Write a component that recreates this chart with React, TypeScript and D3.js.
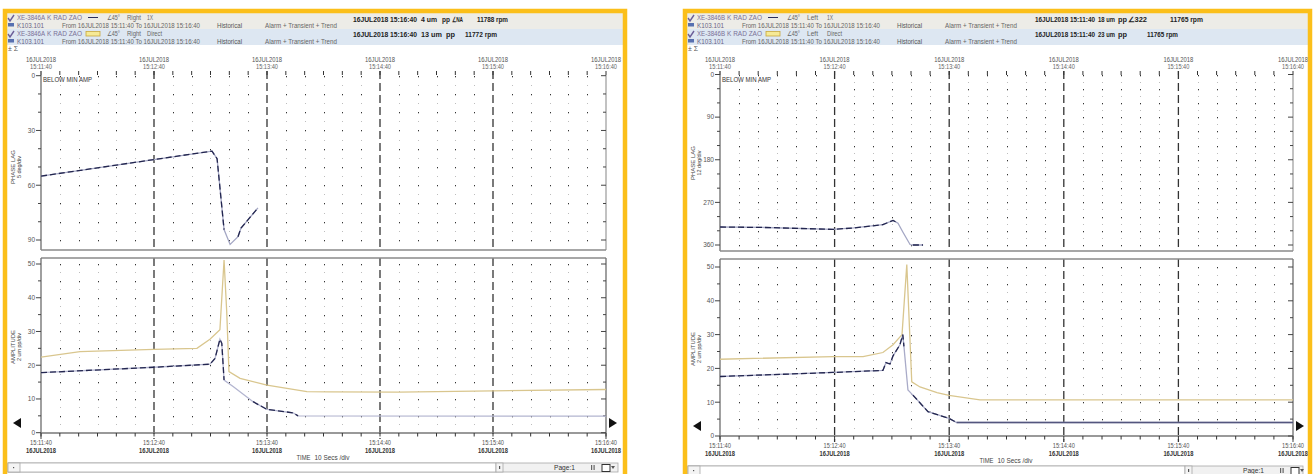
import React from 'react';
import * as d3 from 'd3';

type Pt = [number, number];

// ---------- shared axis data ----------
const DATE_TEXT = '16JUL2018';
const MAJOR_SECS = [0, 60, 120, 180, 240, 300];
const MAJOR_LABELS = ['15:11:40', '15:12:40', '15:13:40', '15:14:40', '15:15:40', '15:16:40'];
const LEFT_PHASE_TICKS = [0, 30, 60, 90];
const RIGHT_PHASE_TICKS = [0, 90, 180, 270, 360];
const AMP_TICKS = [0, 10, 20, 30, 40, 50];

// ---------- series (seconds after 15:11:40, value) ----------
const leftPhase: Pt[] = [[0, 55], [90.8, 41.3], [93.5, 45.5], [97.2, 84.3], [100.4, 92.4], [104.6, 88.2], [106.2, 83.5], [115.2, 72.4]];
const leftAmp1X: Pt[] = [[0, 17.8], [60, 19.4], [89.7, 20.3], [92.4, 22], [95, 27.7], [96, 26.5], [97.2, 15.6], [102, 13.7], [112.6, 9.2], [120, 6.9], [133.8, 5.9], [136.5, 5.0], [300, 4.9]];
const leftAmpDirect: Pt[] = [[0, 22.4], [20.7, 24], [60, 24.7], [82.8, 25], [89.7, 27.7], [95, 30.5], [97.2, 51.2], [98.6, 36], [99.8, 18.1], [105.7, 16.1], [120, 14.1], [141.2, 12.2], [153.5, 12.1], [190, 12], [240, 12.4], [300, 12.8]];

const rightPhase: Pt[] = [[0, 322], [23.6, 323], [59.2, 327], [70, 324], [85.3, 317], [90.6, 308], [93.2, 314], [95.8, 333], [99.5, 359], [101, 360], [106.3, 360]];
const rightAmp1X: Pt[] = [[0, 17.6], [59.2, 18.8], [85.3, 19.4], [86.9, 21.7], [89, 21.3], [90.6, 23.7], [94.2, 27], [95.7, 30], [96.3, 26.5], [98.4, 13.6], [101, 12.1], [108.9, 7.2], [119.9, 5.2], [123.9, 4], [300, 4]];
const rightAmpDirect: Pt[] = [[0, 22.7], [59.2, 23.5], [74.9, 23.5], [85.3, 24.7], [90.6, 27], [95.3, 30], [97.8, 50.7], [100.4, 16], [104.7, 14.5], [113.6, 12.8], [119.9, 12], [136.1, 10.7], [300, 10.7]];

// ---------- header texts ----------
const leftReading1 = ['16JUL2018 15:16:40', '4 um', 'pp', '\u2220NA', '11788 rpm'];
const leftReading2 = ['16JUL2018 15:16:40', '13 um', 'pp', '11772 rpm'];
const rightReading1 = ['16JUL2018 15:11:40', '18 um', 'pp', '\u2220322', '11765 rpm'];
const rightReading2 = ['16JUL2018 15:11:40', '23 um', 'pp', '11765 rpm'];

const FONT = '"Liberation Sans", Arial, sans-serif';
const YELLOW = '#fbbf1a';

function T(props: any) {
  const { x, y, w, size = 6.8, weight = 'normal', fill = '#555', anchor = 'start', children, transform } = props;
  const extra: any = {};
  if (w) { extra.textLength = w; extra.lengthAdjust = 'spacingAndGlyphs'; }
  return (
    <text x={x} y={y} fontSize={size} fontWeight={weight} fill={fill} textAnchor={anchor}
      fontFamily={FONT} transform={transform} {...extra}>{children}</text>
  );
}

function Frame({ c }: any) {
  const x = d3.scaleLinear().domain([0, 300]).range([c.px0, c.px1]);
  const yP = d3.scaleLinear().domain(c.phDomain).range(c.phRange);
  const yA = d3.scaleLinear().domain([0, 50]).range(c.amRange);
  const lineP = d3.line<Pt>().x(d => x(d[0])).y(d => yP(d[1]));
  const lineA = d3.line<Pt>().x(d => x(d[0])).y(d => yA(d[1]));
  const minorT = d3.range(0, 301, 10);
  const ox = c.ox;
  const sb = c.sb;

  const dots = (ys: any, step: number, lo: number, hi: number, top: number, bot: number, key: string) => {
    const out: any[] = [];
    minorT.forEach(t => {
      if (MAJOR_SECS.includes(t)) return;
      const xx = Math.round(x(t));
      for (let v = lo - step; v <= hi + step; v += step / 2) {
        const yy = Math.round(ys(v));
        if (yy <= top + 2 || yy >= bot - 1) continue;
        const dark = Math.abs((v - lo) / step - Math.round((v - lo) / step)) < 1e-6;
        out.push(<rect key={key + t + '_' + v} x={xx} y={yy} width={1} height={dark ? 1.3 : 1} fill={dark ? '#333' : '#bdbdbd'} />);
      }
    });
    return out;
  };

  const seg = (pts: Pt[], ranges: number[][]) => ranges.map(r => pts.filter(p => p[0] >= r[0] - 1e-6 && p[0] <= r[1] + 1e-6));

  const phaseMinor = d3.range(c.phDomain[0], c.phDomain[1] + 1e-6, c.phMinor);
  const ampMinor = d3.range(0, 51, 5);
  const clipP = 'clipP' + c.id, clipA = 'clipA' + c.id;

  return (
    <g>
      <defs>
        <clipPath id={clipP}><rect x={c.px0} y={c.phTop} width={c.px1 - c.px0} height={c.phBot - c.phTop + 2} /></clipPath>
        <clipPath id={clipA}><rect x={c.px0} y={c.amTop} width={c.px1 - c.px0} height={c.amBot - c.amTop} /></clipPath>
      </defs>
      {/* header */}
      <rect x={c.fx0 + 4} y={13} width={c.fx1 - c.fx0 - 8} height={16} fill="#edece7" />
      <rect x={c.fx0 + 4} y={29} width={c.fx1 - c.fx0 - 8} height={16} fill="#dde7f2" />
      {[0, 16].map(dy => (
        <g key={'ic' + dy}>
          <path d={`M${ox + 8},${18 + dy} L${ox + 10},${21 + dy} L${ox + 14},${15 + dy}`} fill="none" stroke="#6b5e98" strokeWidth={1.4} />
          <rect x={ox + 8} y={23 + dy} width={6} height={3.5} fill="#5770b0" />
        </g>
      ))}
      <T x={ox + 17} y={20} w={28} fill="#7a7096">{c.probe}</T>
      <T x={ox + 47} y={20} w={35} fill="#7a7096">K RAD ZAO</T>
      <line x1={ox + 88} x2={ox + 98} y1={17.5} y2={17.5} stroke="#2a2d5c" strokeWidth={1} />
      <T x={ox + 107} y={20} w={13} fill="#666">{'\u222045\u00b0'}</T>
      <T x={ox + 127} y={20} w={c.sideW} fill="#666">{c.side}</T>
      <T x={ox + 147} y={20} w={6} fill="#666">1X</T>
      <T x={ox + 17} y={36} w={28} fill="#7a7096">{c.probe}</T>
      <T x={ox + 47} y={36} w={35} fill="#7a7096">K RAD ZAO</T>
      <rect x={ox + 86} y={31.5} width={14} height={4.5} fill="#f6ea96" stroke="#c9a83e" strokeWidth={0.8} />
      <T x={ox + 107} y={36} w={13} fill="#666">{'\u222045\u00b0'}</T>
      <T x={ox + 127} y={36} w={c.sideW} fill="#666">{c.side}</T>
      <T x={ox + 147} y={36} w={15} fill="#666">Direct</T>
      {[27.5, 44].map(yy => (
        <g key={'l2' + yy}>
          <T x={ox + 17} y={yy} w={27} fill="#6a6688">K103.101</T>
          <T x={ox + 62} y={yy} w={138} fill="#666">From 16JUL2018 15:11:40 To 16JUL2018 15:16:40</T>
          <T x={ox + 217} y={yy} w={25} fill="#555">Historical</T>
          <T x={ox + 265} y={yy} w={72} fill="#666">Alarm + Transient + Trend</T>
        </g>
      ))}
      {c.r1.map((s: string, i: number) => (
        <T key={'r1' + i} x={c.r1x[i]} y={21.5} w={c.r1w[i]} weight="bold" fill="#222">{s}</T>
      ))}
      {c.r2.map((s: string, i: number) => (
        <T key={'r2' + i} x={c.r2x[i]} y={37} w={c.r2w[i]} weight="bold" fill="#222">{s}</T>
      ))}
      <T x={ox + 8} y={51} size={7} fill="#555">{'\u00b1 \u03a3'}</T>

      {/* top time labels */}
      {MAJOR_SECS.map((t, i) => (
        <g key={'tl' + t}>
          <T x={x(t)} y={62} w={30} anchor="middle" fill="#555">{DATE_TEXT}</T>
          <T x={x(t)} y={69} w={22} anchor="middle" fill="#666">{MAJOR_LABELS[i]}</T>
        </g>
      ))}

      {/* ---------- phase panel ---------- */}
      {dots(yP, c.phMinor, c.phDomain[0], c.phDomain[1], c.phTop, c.phBot, 'dp')}
      {minorT.map(t => (
        <line key={'pt' + t} x1={x(t)} x2={x(t)} y1={c.phTop} y2={c.phTop + 4} stroke="#333" strokeWidth={1} />
      ))}
      {MAJOR_SECS.slice(1, 5).map(t => (
        <line key={'pd' + t} x1={x(t)} x2={x(t)} y1={c.phTop} y2={c.phBot} stroke="#333" strokeWidth={1.3} strokeDasharray="8,4" />
      ))}
      <line x1={c.px0} x2={c.px0} y1={c.phTop} y2={c.phBot} stroke="#777" strokeWidth={1.4} />
      <line x1={c.px1} x2={c.px1} y1={c.phTop} y2={c.phBot} stroke="#999" strokeWidth={1.2} />
      <line x1={c.px0} x2={c.px1} y1={c.phBot} y2={c.phBot} stroke="#8a8a8a" strokeWidth={1.4} />
      {phaseMinor.map(v => {
        const major = c.phTicks.includes(v);
        return (
          <g key={'pyt' + v}>
            <line x1={c.px0 - (major ? 5 : 3)} x2={c.px0} y1={yP(v)} y2={yP(v)} stroke="#444" strokeWidth={1} />
            <line x1={c.px1 - (major ? 5 : 3)} x2={c.px1} y1={yP(v)} y2={yP(v)} stroke="#444" strokeWidth={1} />
          </g>
        );
      })}
      {c.phTicks.map((v: number) => (
        <T key={'pl' + v} x={c.px0 - 6} y={yP(v) + 2.3} anchor="end" size={6.5} fill="#555">{String(v)}</T>
      ))}
      <T x={c.px0 + 2} y={82} w={49} fill="#333">BELOW MIN AMP</T>
      <T x={0} y={0} size={6.2} w={34} anchor="middle" fill="#444" transform={`translate(${ox + 15},${c.phMid}) rotate(-90)`}>PHASE LAG</T>
      <T x={0} y={0} size={6.2} w={c.phSubW} anchor="middle" fill="#444" transform={`translate(${ox + 21},${c.phMid}) rotate(-90)`}>{c.phSub}</T>
      <g clipPath={`url(#${clipP})`}>
        <path d={lineP(c.phase) || ''} fill="none" stroke="#a4a7c4" strokeWidth={1.3} />
        {seg(c.phase, c.phDark).map((p, i) => (
          <path key={'pdk' + i} d={lineP(p) || ''} fill="none" stroke="#23264f" strokeWidth={1.3} strokeDasharray="6,3" />
        ))}
      </g>

      {/* ---------- amplitude panel ---------- */}
      {dots(yA, 5, 0, 50, c.amTop, c.amBot, 'da')}
      {MAJOR_SECS.slice(1, 5).map(t => (
        <line key={'ad' + t} x1={x(t)} x2={x(t)} y1={c.amTop} y2={c.amBot + 6} stroke="#333" strokeWidth={1.3} strokeDasharray="8,4" />
      ))}
      <line x1={c.px0} x2={c.px1} y1={c.amTop} y2={c.amTop} stroke="#8a8a8a" strokeWidth={1.4} />
      <line x1={c.px0} x2={c.px0} y1={c.amTop} y2={c.amBot + 6} stroke="#777" strokeWidth={1.4} />
      <line x1={c.px1} x2={c.px1} y1={c.amTop} y2={c.amBot + 6} stroke="#777" strokeWidth={1.4} />
      <line x1={c.px0} x2={c.px1} y1={c.amBot} y2={c.amBot} stroke="#777" strokeWidth={1.3} />
      {minorT.map(t => (
        <line key={'at' + t} x1={x(t)} x2={x(t)} y1={c.amBot} y2={c.amBot + 3.5} stroke="#333" strokeWidth={1} />
      ))}
      {ampMinor.map(v => {
        const major = AMP_TICKS.includes(v);
        return (
          <g key={'ayt' + v}>
            <line x1={c.px0 - (major ? 5 : 3)} x2={c.px0} y1={yA(v)} y2={yA(v)} stroke="#444" strokeWidth={1} />
            <line x1={c.px1 - (major ? 5 : 3)} x2={c.px1} y1={yA(v)} y2={yA(v)} stroke="#444" strokeWidth={1} />
          </g>
        );
      })}
      {AMP_TICKS.map(v => (
        <T key={'al' + v} x={c.px0 - 6} y={yA(v) + 2.3} anchor="end" size={6.5} fill="#555">{String(v)}</T>
      ))}
      <T x={0} y={0} size={6.2} w={34} anchor="middle" fill="#444" transform={`translate(${ox + 15},${c.amMid}) rotate(-90)`}>AMPLITUDE</T>
      <T x={0} y={0} size={6.2} w={28} anchor="middle" fill="#444" transform={`translate(${ox + 21},${c.amMid}) rotate(-90)`}>2 um pp/div</T>
      <g clipPath={`url(#${clipA})`}>
        <path d={lineA(c.amp2) || ''} fill="none" stroke="#d9c68e" strokeWidth={1.3} />
        <path d={lineA(c.amp1) || ''} fill="none" stroke={c.amp1Base} strokeWidth={1.3} />
        {seg(c.amp1, c.amDark).map((p, i) => (
          <path key={'adk' + i} d={lineA(p) || ''} fill="none" stroke="#23264f" strokeWidth={1.3} strokeDasharray="6,3" />
        ))}
        {seg(c.amp1, c.amSolid).map((p, i) => (
          <path key={'ads' + i} d={lineA(p) || ''} fill="none" stroke="#53567e" strokeWidth={1.4} />
        ))}
      </g>
      {/* arrows */}
      <path d={`M${ox + 13},${423 + sb} L${ox + 21},${418 + sb} L${ox + 21},${428 + sb} Z`} fill="#111" />
      <path d={`M${c.px1 + 11},${423 + sb} L${c.px1 + 3},${418 + sb} L${c.px1 + 3},${428 + sb} Z`} fill="#111" />

      {/* bottom labels */}
      {MAJOR_SECS.map((t, i) => (
        <g key={'bl' + t}>
          <T x={x(t)} y={445 + sb} w={22} anchor="middle" fill="#555">{MAJOR_LABELS[i]}</T>
          <T x={x(t)} y={453 + sb} w={30} anchor="middle" fill="#333" weight="bold">{DATE_TEXT}</T>
        </g>
      ))}
      <T x={(c.px0 + c.px1) / 2 - 27} y={460 + sb} w={14} fill="#444">TIME</T>
      <T x={(c.px0 + c.px1) / 2 - 9} y={460 + sb} w={35} fill="#444">10 Secs /div</T>

      {/* scrollbar */}
      <rect x={ox + 8} y={463 + sb} width={c.fx1 - c.fx0 - 14} height={9} fill="#f1f1f1" stroke="#a8a8a8" strokeWidth={0.8} />
      <rect x={ox + 8} y={463 + sb} width={c.trackEnd - ox - 8} height={9} fill="#fff" stroke="#a8a8a8" strokeWidth={0.8} />
      <rect x={ox + 8} y={463 + sb} width={12} height={9} fill="#f4f4f4" stroke="#a8a8a8" strokeWidth={0.8} />
      <rect x={ox + 13} y={467 + sb} width={1.2} height={1.2} fill="#555" />
      <rect x={c.trackEnd} y={463 + sb} width={7} height={9} fill="#f4f4f4" stroke="#a8a8a8" strokeWidth={0.8} />
      <rect x={c.trackEnd + 3} y={466 + sb} width={1.2} height={3} fill="#555" />
      <T x={c.trackEnd + 58} y={470 + sb} w={21} size={6.5} fill="#333">Page:1</T>
      <rect x={c.trackEnd + 95} y={465 + sb} width={1.2} height={5} fill="#666" />
      <rect x={c.trackEnd + 97.5} y={465 + sb} width={1.2} height={5} fill="#666" />
      <rect x={c.trackEnd + 106} y={464.5 + sb} width={8} height={7} fill="#fff" stroke="#333" strokeWidth={1} />
      <path d={`M${c.trackEnd + 115},${466 + sb} L${c.trackEnd + 119},${466 + sb} L${c.trackEnd + 117},${469 + sb} Z`} fill="#555" />

      {/* yellow frame */}
      <rect x={c.fx0 + 2} y={11} width={c.fx1 - c.fx0 - 4} height={470} fill="none" stroke={YELLOW} strokeWidth={4.5} />
    </g>
  );
}

const LEFT_CFG = {
  id: 'L', ox: 0, fx0: 3, fx1: 627, px0: 41, px1: 606, sb: 0,
  probe: 'XE-3846A', side: 'Right', sideW: 14,
  phTop: 71, phBot: 250, phDomain: [0, 90], phRange: [75.7, 240], phTicks: LEFT_PHASE_TICKS, phMinor: 10,
  phSub: '5 deg/div', phSubW: 22, phMid: 167,
  amTop: 258, amBot: 433, amRange: [432.7, 264], amMid: 347,
  phase: leftPhase, amp1: leftAmp1X, amp2: leftAmpDirect,
  phDark: [[0, 97.2], [104.6, 115.2]], amDark: [[0, 97.2], [112.6, 136.5]], amSolid: [], amp1Base: '#b3b5d0',
  r1: leftReading1, r1x: [353, 421, 442, 452, 477], r1w: [64, 16, 8, 11, 31],
  r2: leftReading2, r2x: [353, 421, 446, 465], r2w: [64, 21, 9, 32],
  trackEnd: 496,
};

const RIGHT_CFG = {
  id: 'R', ox: 680, fx0: 683, fx1: 1312, px0: 720, px1: 1293, sb: 3,
  probe: 'XE-3846B', side: 'Left', sideW: 11,
  phTop: 71, phBot: 251, phDomain: [0, 360], phRange: [74.5, 245], phTicks: RIGHT_PHASE_TICKS, phMinor: 30,
  phSub: '12 deg/div', phSubW: 25, phMid: 163,
  amTop: 259, amBot: 436, amRange: [436, 267], amMid: 349,
  phase: rightPhase, amp1: rightAmp1X, amp2: rightAmpDirect,
  phDark: [[0, 93.2], [101, 106.3]], amDark: [[0, 96.3], [101, 123.9]], amSolid: [[123.9, 300]], amp1Base: '#a9abc8',
  r1: rightReading1, r1x: [1035, 1098, 1118, 1128, 1170], r1w: [60, 17, 9, 19, 33],
  r2: rightReading2, r2x: [1035, 1098, 1118, 1147], r2w: [60, 17, 9, 31],
  trackEnd: 1185,
};

export default function App() {
  return (
    <svg width={1313} height={474} viewBox="0 0 1313 474"
      style={{ position: 'absolute', left: 0, top: 0, background: '#fff' }}>
      <rect x={0} y={0} width={1313} height={474} fill="#fff" />
      <Frame c={LEFT_CFG} />
      <Frame c={RIGHT_CFG} />
    </svg>
  );
}
